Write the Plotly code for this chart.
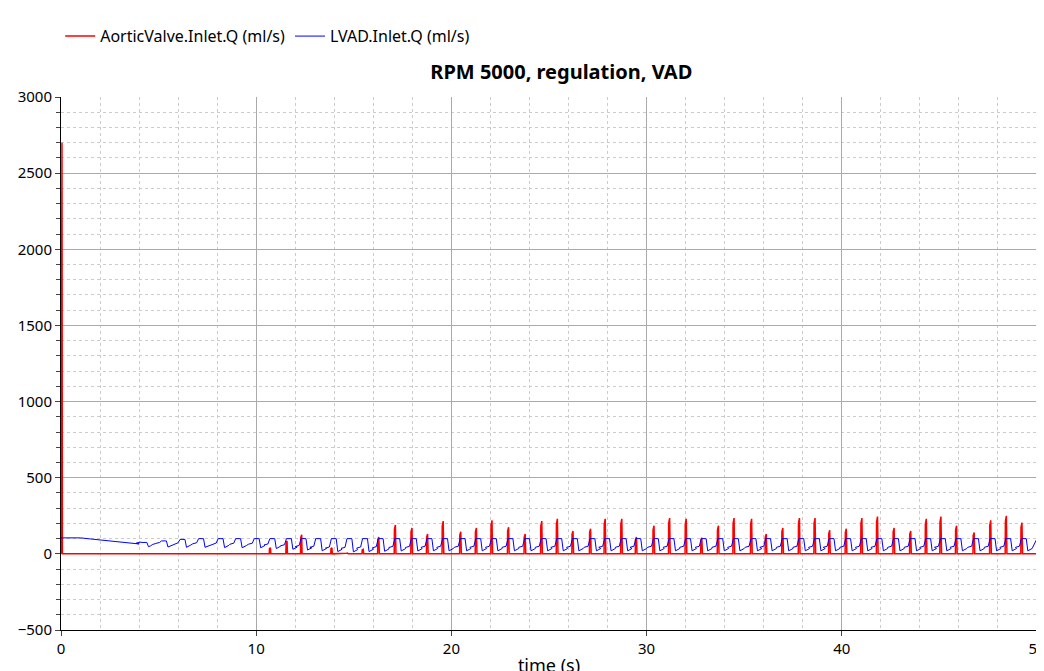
import numpy as np
import plotly.graph_objects as go

# beat onset times (s)
beat_t = [4.1, 5.1, 6.05, 7.0, 8.0, 8.9, 9.85, 10.65, 11.5, 12.25, 13.0, 13.8,
          14.6, 15.4, 16.2, 17.05, 17.9, 18.7, 19.5, 20.4, 21.2, 22.0, 22.85, 23.7,
          24.55, 25.35, 26.15, 27.05, 27.8, 28.65, 29.4, 30.3, 31.1, 31.95, 32.75, 33.6,
          34.4, 35.3, 36.05, 36.9, 37.75, 38.55, 39.3, 40.15, 40.95, 41.75, 42.6, 43.45,
          44.25, 45.0, 45.8, 46.7, 47.55, 48.35, 49.15]
# aortic valve peak flow per beat (ml/s)
aortic_peak = [0, 0, 0, 0, 0, 0, 0, 40, 85, 125, 0, 40, 5, 30, 110, 190, 170, 130,
               215, 145, 170, 220, 175, 130, 215, 230, 150, 165, 230, 230, 110, 185, 235, 230,
               105, 185, 235, 230, 130, 170, 235, 235, 155, 165, 235, 245, 170, 150, 230, 245,
               185, 140, 220, 250, 205]
# LVAD plateau flow per beat (ml/s)
lvad_top = [75, 85, 95, 100, 100, 100, 100, 100, 100, 100, 100, 100, 100, 100, 100, 100, 100, 100,
            100, 100, 100, 100, 100, 100, 100, 100, 100, 100, 100, 100, 100, 100, 100, 100,
            100, 100, 100, 100, 100, 100, 100, 100, 100, 100, 100, 100, 100, 100, 100, 100,
            100, 100, 100, 100, 100]
# LVAD level between beats (ml/s)
lvad_base = [62, 60, 58, 58, 56, 55, 55, 50, 45, 40, 35, 30, 28, 30, 32, 34, 34, 35,
             35, 35, 35, 35, 35, 35, 35, 35, 35, 35, 35, 35, 35, 35, 35, 35,
             35, 35, 35, 35, 35, 35, 35, 35, 35, 35, 35, 35, 35, 35, 35, 35,
             35, 35, 35, 35, 35]
# slow start: time, LVAD flow
start_t = [0, 1.0, 1.5, 2.5, 3.5, 4.0]
start_q = [105, 105, 98, 85, 72, 65]
# initial aortic valve transient
init_t = [0.0, 0.03, 0.05, 0.07]
init_q = [0, 2700, 2700, 0]

# build traces from the read values
at, aq = list(init_t), list(init_q)
lt, lq = list(start_t), list(start_q)
for t, p, top, base in zip(beat_t, aortic_peak, lvad_top, lvad_base):
    if p > 0:
        at += [t + 0.02, t + 0.03, t + 0.08, t + 0.1, t + 0.11]
        aq += [0, p * 0.85, p, 0, 0]
    lt += [t - 0.25, t - 0.05, t + 0.05, t + 0.3, t + 0.38, t + 0.48, t + 0.6]
    lq += [base + 8, base + 15, top, top, base - 15, base - 10, base]
at.append(50)
aq.append(0)
lt.append(50)
lq.append(100)

fig = go.Figure()
fig.add_trace(go.Scatter(x=at, y=aq, mode="lines", name="AorticValve.Inlet.Q (ml/s)",
                         line=dict(color="#ff0000", width=1.5), cliponaxis=False))
fig.add_trace(go.Scatter(x=lt, y=lq, mode="lines", name="LVAD.Inlet.Q (ml/s)",
                         line=dict(color="#0000ff", width=1)))

fig.update_layout(
    width=1044, height=671, plot_bgcolor="white", paper_bgcolor="white",
    font=dict(family="Noto Sans", size=15, color="black"),
    margin=dict(l=53, r=15, t=89, b=49, autoexpand=False),
    title=dict(text="<b>RPM 5000, regulation, VAD</b>", x=0.53, xanchor="center",
               y=0.905, yanchor="middle", font=dict(size=20)),
    legend=dict(orientation="h", x=0.05, y=0.958, xref="container", yref="container",
                xanchor="left", yanchor="middle", font=dict(size=16)),
)
fig.update_xaxes(range=[0, 50], dtick=10, showgrid=True, gridcolor="#aaaaaa",
                 minor=dict(dtick=2, showgrid=True, gridcolor="#cccccc", griddash="dot"),
                 showline=True, linecolor="black", mirror=False, ticks="outside",
                 zeroline=False, automargin=False, title=dict(text="time (s)", standoff=2))
fig.update_yaxes(range=[-500, 3000], dtick=500, showgrid=True, gridcolor="#aaaaaa",
                 minor=dict(dtick=100, showgrid=True, gridcolor="#cccccc", griddash="dot",
                            ticks="outside", ticklen=4),
                 showline=True, linecolor="black", ticks="outside", zeroline=False,
                 automargin=False)
fig.add_shape(type="line", xref="paper", yref="paper", x0=1, x1=1, y0=0, y1=1,
              line=dict(color="#aaaaaa", width=1))
fig.write_html("out.html")
